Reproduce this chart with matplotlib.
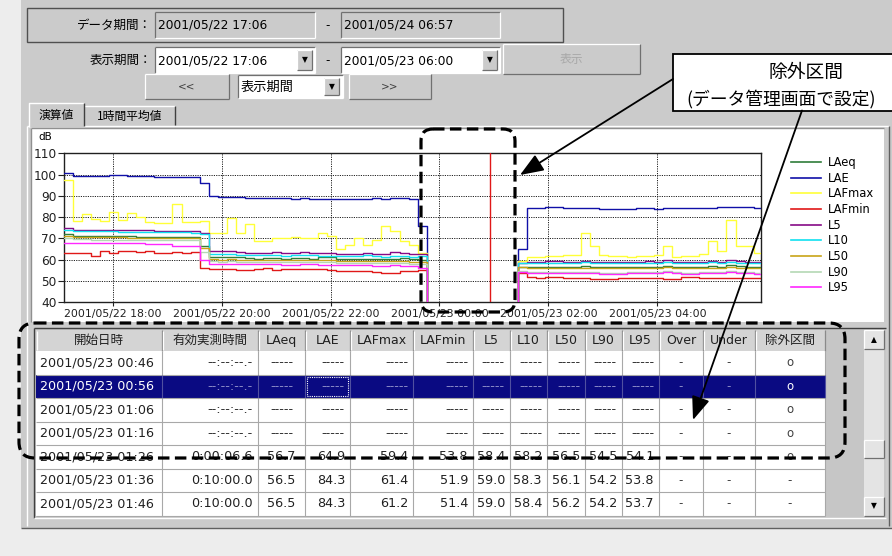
import numpy as np
import matplotlib
matplotlib.use('Agg')
import matplotlib.pyplot as plt
import matplotlib.dates as mdates
from matplotlib.patches import Rectangle, FancyBboxPatch
from matplotlib.lines import Line2D
from datetime import datetime, timedelta

plt.rcParams['font.family'] = ['DejaVu Sans', 'Noto Sans CJK JP']

# ------------------------------------------------------------------ data
data_period = ['2001/05/22 17:06', '2001/05/24 06:57']
view_period = ['2001/05/22 17:06', '2001/05/23 06:00']
series_names = ['LAeq', 'LAE', 'LAFmax', 'LAFmin', 'L5', 'L10', 'L50', 'L90', 'L95']
series_colors = ['#2f7d3a', '#1010a8', '#ffff38', '#e01818', '#860a86',
                 '#10e0f0', '#c8a418', '#b4d8b4', '#ff28ff']

first_start = '2001/05/22 17:06'   # 10-minute records
n_excluded = 10                      # 23:46 .. 01:16 (除外区間, no data)
axis_end = '2001/05/23 05:54'
selected_time = '2001/05/23 00:56'

laeq_before = [72.2, 71.2, 71.2, 71.2, 71.0, 71.0, 71.0, 71.0, 70.8, 70.8, 70.8, 70.8, 70.8, 70.6, 70.6, 66.4,
               61.2, 61.0, 61.4, 61.0, 60.6, 60.4, 60.6, 60.6, 60.4, 60.8, 60.6, 60.4, 61.2, 61.2, 60.4, 60.2,
               60.2, 60.2, 60.2, 60.2, 60.2, 60.6, 60.2, 59.8]
lae_before = [100.6, 99.3, 99.3, 99.3, 99.3, 99.6, 99.6, 99.2, 99.2, 99.2, 98.8, 98.8, 98.8, 98.8, 98.8, 96.2,
              90.0, 89.6, 89.6, 89.6, 88.8, 88.8, 88.8, 88.8, 89.0, 88.6, 88.9, 88.7, 88.7, 88.7, 88.3, 88.3,
              88.3, 88.3, 88.8, 88.5, 88.8, 88.8, 88.5, 75.6]
lafmax_before = [97.3, 78.3, 81.2, 79.3, 78.3, 82.4, 78.6, 82.0, 79.8, 77.8, 77.3, 77.3, 86.3, 77.6, 77.6, 78.0,
                 72.3, 72.3, 79.6, 72.3, 76.7, 68.5, 68.5, 70.0, 70.0, 70.7, 70.2, 70.0, 72.3, 70.9, 64.8, 66.9,
                 70.0, 66.9, 69.3, 75.6, 73.4, 68.5, 66.9, 63.0]
lafmin_before = [63.2, 63.2, 63.2, 61.6, 64.0, 63.2, 64.2, 64.2, 63.6, 64.0, 63.2, 63.2, 63.6, 63.2, 63.6, 55.8,
                 55.4, 55.4, 55.6, 55.0, 55.0, 55.4, 55.8, 55.2, 55.6, 55.6, 55.6, 55.6, 55.6, 55.0, 54.8, 54.8,
                 54.8, 54.6, 54.0, 53.8, 53.8, 54.4, 54.6, 55.2]
l5_before = [74.6, 74.0, 74.0, 74.0, 74.0, 73.8, 73.8, 73.8, 73.8, 73.8, 73.4, 73.4, 73.4, 73.4, 73.4, 72.6,
             64.2, 63.8, 64.2, 63.6, 63.2, 63.2, 63.0, 63.4, 63.0, 63.2, 63.4, 63.2, 63.0, 63.0, 62.6, 62.8,
             62.6, 63.2, 62.6, 62.6, 63.4, 63.0, 62.6, 62.4]
l10_before = [73.8, 73.2, 73.2, 73.2, 73.2, 73.2, 73.0, 73.0, 73.0, 73.0, 72.8, 72.8, 72.8, 72.8, 72.6, 72.2,
              62.8, 62.4, 62.6, 62.2, 62.0, 62.0, 62.0, 62.2, 61.8, 62.0, 62.2, 62.0, 61.8, 61.8, 61.6, 61.6,
              61.6, 62.0, 61.6, 61.4, 61.8, 61.6, 61.4, 61.6]
l50_before = [71.0, 70.6, 70.6, 70.4, 70.4, 70.4, 70.4, 70.2, 70.2, 70.2, 70.2, 70.0, 70.0, 70.0, 70.0, 65.2,
              60.2, 60.0, 60.2, 60.0, 59.8, 59.8, 59.8, 60.0, 59.6, 59.8, 59.8, 59.6, 59.8, 59.6, 59.4, 59.4,
              59.4, 59.4, 59.2, 59.2, 59.4, 59.2, 59.0, 58.8]
l90_before = [70.0, 69.6, 69.6, 69.4, 69.4, 69.4, 69.4, 69.2, 69.2, 69.2, 69.0, 69.0, 69.0, 69.0, 69.0, 63.6,
              59.2, 59.0, 59.2, 59.0, 58.8, 58.8, 58.8, 59.0, 58.6, 58.8, 58.8, 58.6, 58.8, 58.6, 58.4, 58.4,
              58.4, 58.4, 58.2, 58.2, 58.4, 58.2, 58.0, 57.8]
l95_before = [67.6, 67.6, 67.6, 67.6, 67.6, 67.6, 67.6, 67.6, 67.6, 67.2, 67.2, 67.2, 66.4, 66.4, 66.4, 59.6,
              58.0, 58.0, 57.8, 57.8, 57.8, 57.8, 57.8, 57.8, 57.6, 57.6, 57.8, 57.8, 57.6, 57.6, 57.2, 57.2,
              57.2, 57.2, 57.0, 57.0, 57.2, 57.0, 56.8, 56.0]

laeq_after = [56.7, 56.5, 56.5, 56.6, 56.6, 56.4, 56.4, 56.8, 56.6, 56.4, 56.4, 56.4, 56.5, 56.5, 56.6, 56.6,
              57.0, 56.6, 56.4, 56.4, 56.6, 56.8, 56.6, 57.2, 56.8, 56.6, 56.4]
lae_after = [64.9, 84.3, 84.3, 84.5, 84.5, 84.4, 84.4, 84.2, 84.2, 83.6, 83.6, 83.6, 84.0, 84.2, 84.2, 84.0,
             84.3, 84.2, 84.2, 84.4, 84.4, 84.4, 84.6, 84.7, 84.9, 84.5, 84.3]
lafmax_after = [59.4, 61.4, 61.2, 61.6, 61.8, 62.0, 62.2, 72.4, 66.2, 62.0, 61.5, 61.6, 61.4, 61.6, 61.8, 62.0,
                66.2, 61.4, 61.6, 61.8, 62.6, 68.5, 64.1, 78.7, 66.2, 66.2, 63.2]
lafmin_after = [53.8, 51.9, 51.4, 51.6, 51.6, 51.2, 51.2, 51.2, 51.0, 51.0, 51.0, 51.4, 51.4, 51.2, 51.2, 51.2,
                51.0, 51.0, 51.6, 51.8, 51.2, 51.2, 51.2, 51.4, 51.4, 51.2, 51.2]
l5_after = [58.4, 59.0, 59.0, 59.2, 59.2, 59.0, 59.0, 59.4, 59.0, 58.8, 58.8, 58.8, 59.0, 59.0, 59.2, 59.0,
            59.6, 59.0, 58.8, 58.8, 59.0, 59.4, 59.0, 59.6, 59.2, 59.0, 58.8]
l10_after = [58.2, 58.3, 58.4, 58.4, 58.4, 58.2, 58.2, 58.6, 58.4, 58.2, 58.2, 58.2, 58.4, 58.4, 58.4, 58.4,
             58.8, 58.4, 58.2, 58.2, 58.4, 58.6, 58.4, 58.8, 58.4, 58.4, 58.2]
l50_after = [56.5, 56.1, 56.2, 56.2, 56.2, 56.0, 56.0, 56.2, 56.0, 55.8, 55.8, 55.8, 56.0, 56.0, 56.2, 56.0,
             56.4, 56.0, 55.8, 55.8, 56.0, 56.2, 56.0, 56.4, 56.2, 56.0, 55.8]
l90_after = [54.5, 54.2, 54.2, 54.2, 54.2, 54.0, 54.0, 54.2, 54.0, 53.8, 53.8, 53.8, 54.0, 54.0, 54.2, 54.0,
             54.4, 54.0, 53.8, 53.8, 54.0, 54.2, 54.0, 54.4, 54.2, 54.0, 53.8]
l95_after = [54.1, 53.8, 53.7, 53.8, 53.8, 53.6, 53.6, 53.8, 53.6, 53.4, 53.4, 53.4, 53.6, 53.6, 53.8, 53.6,
             54.0, 53.6, 53.4, 53.4, 53.6, 53.8, 53.6, 54.0, 53.8, 53.6, 53.4]

# table
table_headers = ['開始日時', '有効実測時間', 'LAeq', 'LAE', 'LAFmax', 'LAFmin', 'L5', 'L10', 'L50', 'L90',
                 'L95', 'Over', 'Under', '除外区間']
row_start = ['2001/05/23 00:46', '2001/05/23 00:56', '2001/05/23 01:06', '2001/05/23 01:16',
             '2001/05/23 01:26', '2001/05/23 01:36', '2001/05/23 01:46']
row_eff = ['--:--:--.-', '--:--:--.-', '--:--:--.-', '--:--:--.-', '0:00:06.6', '0:10:00.0', '0:10:00.0']
tbl_laeq = [None, None, None, None, 56.7, 56.5, 56.5]
tbl_lae = [None, None, None, None, 64.9, 84.3, 84.3]
tbl_lafmax = [None, None, None, None, 59.4, 61.4, 61.2]
tbl_lafmin = [None, None, None, None, 53.8, 51.9, 51.4]
tbl_l5 = [None, None, None, None, 58.4, 59.0, 59.0]
tbl_l10 = [None, None, None, None, 58.2, 58.3, 58.4]
tbl_l50 = [None, None, None, None, 56.5, 56.1, 56.2]
tbl_l90 = [None, None, None, None, 54.5, 54.2, 54.2]
tbl_l95 = [None, None, None, None, 54.1, 53.8, 53.7]
row_over = ['-', '-', '-', '-', '-', '-', '-']
row_under = ['-', '-', '-', '-', '-', '-', '-']
row_excl = ['o', 'o', 'o', 'o', 'o', '-', '-']
selected_row = 1

callout_lines = ['除外区間', '(データ管理画面で設定)']

# ------------------------------------------------------------------ figure
W, H = 892, 556
fig = plt.figure(figsize=(W / 100, H / 100), dpi=100, facecolor='#ededed')
bg = fig.add_axes([0, 0, 1, 1])
bg.set_xlim(0, W); bg.set_ylim(H, 0); bg.axis('off'); bg.set_zorder(0)

GRAY = '#cbcbcb'
LAT = 'DejaVu Sans'
CJK = ['Noto Sans CJK JP', 'DejaVu Sans']


def box(x0, y0, x1, y1, fc, ec='none', lw=1.0, z=1, ax=None):
    (ax or bg).add_patch(Rectangle((x0, y0), x1 - x0, y1 - y0, fc=fc, ec=ec, lw=lw, zorder=z))


def seg(xs, ys, color, lw=1.0, z=2, ax=None, ls='-'):
    (ax or bg).plot(xs, ys, color=color, lw=lw, zorder=z, ls=ls, solid_capstyle='butt')


def bevel(x0, y0, x1, y1, raised=True, z=3):
    lt, dk = ('#ffffff', '#707070') if raised else ('#707070', '#ffffff')
    seg([x0, x1], [y0, y0], lt, 0.9, z); seg([x0, x0], [y0, y1], lt, 0.9, z)
    seg([x0, x1], [y1, y1], dk, 0.9, z); seg([x1, x1], [y0, y1], dk, 0.9, z)


def txt(x, y, s, size=9, ha='left', color='black', family=None, z=5, ax=None, **kw):
    (ax or bg).text(x, y, s, fontsize=size, ha=ha, va='center', color=color,
                    family=family or [LAT, 'Noto Sans CJK JP'], zorder=z, **kw)


def button(x0, y0, x1, y1, label=None, size=8, color='black', family=None):
    box(x0, y0, x1, y1, GRAY, z=2)
    bevel(x0, y0, x1, y1, True)
    if label:
        txt((x0 + x1) / 2, (y0 + y1) / 2, label, size, 'center', color, family)


def combo(x0, y0, x1, y1, label, size=8.8, family=None, fc='white'):
    box(x0, y0, x1, y1, fc, z=2)
    bevel(x0, y0, x1, y1, False)
    if label:
        txt(x0 + 3, (y0 + y1) / 2 + 0.5, label, size, family=family)


def dropbtn(x0, y0, x1, y1):
    button(x0, y0, x1, y1)
    txt((x0 + x1) / 2, (y0 + y1) / 2, '▼', 5.5, 'center')


# outer panel
box(21, 0, W, 528, GRAY, z=0.5)
seg([21, W], [528, 528], '#606060', 1.0, 1)

# ---- top controls
box(27, 8, 563, 42, 'none', ec='#505050', lw=1.0, z=2)
txt(152, 25, 'データ期間：', 9.0, 'right', family=CJK)
combo(155, 12, 315, 38, data_period[0], fc=GRAY)
txt(328, 26, '-', 8.5, 'center')
combo(341, 12, 500, 38, data_period[1], fc=GRAY)

txt(152, 60, '表示期間：', 9.0, 'right', family=CJK)
combo(155, 47, 315, 73, view_period[0])
dropbtn(297, 50, 312, 70)
txt(328, 61, '-', 8.5, 'center')
combo(341, 47, 500, 73, view_period[1])
dropbtn(482, 50, 497, 70)
button(503, 44, 640, 74, '表示', 8.5, '#a8a8a8', CJK)

button(145, 74, 229, 99, '<<', 7.5, '#404040')
combo(238, 75, 343, 98, '表示期間', 9.5, CJK)
dropbtn(324, 78, 339, 95)
button(349, 74, 431, 99, '>>', 7.5, '#404040')

# tabs
box(27, 126, 889, 526, GRAY, z=1)
seg([27, 889], [126, 126], '#ffffff', 1.0, 2)
seg([27, 27], [126, 526], '#ffffff', 1.0, 2)
seg([889, 889], [126, 526], '#606060', 1.0, 2)
box(29, 103, 84, 127, GRAY, z=2.5)
seg([29, 29, 84], [127, 103, 103], '#ffffff', 1.0, 3)
seg([84, 84], [103, 126], '#404040', 1.0, 3)
txt(56, 115, '演算値', 8.5, 'center', family=CJK)
box(85, 106, 175, 125, GRAY, z=2)
seg([85, 175], [106, 106], '#ffffff', 1.0, 3)
seg([175, 175], [106, 125], '#404040', 1.0, 3)
txt(130, 116, '1時間平均値', 8.5, 'center', family=CJK)

# chart panel
box(31, 128, 884, 322, 'white', z=2)
seg([31, 884], [128, 128], '#909090', 1.0, 3)
seg([31, 31], [128, 322], '#909090', 1.0, 3)
txt(45, 137, 'dB', 7.5, 'center')

# ------------------------------------------------------------------ chart
t0 = datetime.strptime(first_start, '%Y/%m/%d %H:%M')
n_total = len(lae_before) + n_excluded + len(lae_after)
edges = [t0 + timedelta(minutes=10 * k) for k in range(n_total + 1)]
edges_num = mdates.date2num(edges)

ax_l, ax_r, ax_t, ax_b = 63.5, 761, 153.3, 302
cax = fig.add_axes([ax_l / W, 1 - ax_b / H, (ax_r - ax_l) / W, (ax_b - ax_t) / H])
cax.set_zorder(5)
cax.set_facecolor('white')

series_before = [laeq_before, lae_before, lafmax_before, lafmin_before, l5_before,
                 l10_before, l50_before, l90_before, l95_before]
series_after = [laeq_after, lae_after, lafmax_after, lafmin_after, l5_after,
                l10_after, l50_after, l90_after, l95_after]
for name, color, b, a in zip(series_names, series_colors, series_before, series_after):
    vals = np.array(b + [np.nan] * n_excluded + a, dtype=float)
    # the instrument software draws missing records at 0 dB
    drawn = np.nan_to_num(vals, nan=0.0)
    cax.plot(edges_num, np.append(drawn, drawn[-1]), drawstyle='steps-post',
             color=color, lw=1.0, label=name, zorder=3)

cax.axvline(mdates.date2num(datetime.strptime(selected_time, '%Y/%m/%d %H:%M')),
            color='#e01818', lw=1.0, zorder=4)
cax.set_xlim(edges_num[0], mdates.date2num(datetime.strptime(axis_end, '%Y/%m/%d %H:%M')))
cax.set_ylim(40, 110)
cax.set_yticks(np.arange(40, 111, 10))
cax.xaxis.set_major_locator(mdates.HourLocator(byhour=range(0, 24, 2)))
cax.xaxis.set_major_formatter(mdates.DateFormatter('%Y/%m/%d %H:%M'))
cax.grid(True, color='#202020', lw=0.7, ls=(0, (1.2, 1.2)), zorder=1)
cax.tick_params(axis='x', labelsize=7.8, length=3, width=0.8, pad=2, colors='#202020')
cax.tick_params(axis='y', labelsize=8.7, length=4, width=0.8, pad=1, colors='#202020')
for sp in cax.spines.values():
    sp.set_color('#202020'); sp.set_linewidth(1.0)

handles = [Line2D([], [], color=c, lw=1.2) for c in series_colors]
cax.legend(handles, series_names, loc='upper left', bbox_to_anchor=(791 / W, 1 - 156 / H),
           bbox_transform=fig.transFigure, frameon=False, fontsize=8.3, handlelength=2.6,
           handletextpad=0.6, labelspacing=0.23, borderaxespad=0, borderpad=0)

# ------------------------------------------------------------------ table
col_edges = [36, 162, 258, 305, 350, 413, 473, 510, 547, 585, 622, 659, 703, 755, 825]
head_y0, head_y1 = 330, 351
row_h = 23.5
box(34, 328, 886, 518, '#c6c6c6', z=2)
seg([34, 886], [328, 328], '#404040', 1.0, 6)
seg([34, 34], [328, 518], '#404040', 1.0, 6)
seg([34, 886], [518, 518], '#ffffff', 1.0, 6)

# header
for i, hname in enumerate(table_headers):
    x0, x1 = col_edges[i], col_edges[i + 1]
    box(x0, head_y0, x1, head_y1, '#d4d4d4', z=3)
    seg([x0 + 1, x0 + 1], [head_y0 + 1, head_y1 - 1], '#ffffff', 0.9, 4)
    seg([x1, x1], [head_y0, head_y1], '#8a8a8a', 0.9, 4)
    txt((x0 + x1) / 2, (head_y0 + head_y1) / 2, hname, 9.0, 'center', '#202020',
        CJK if any(ord(ch) > 255 for ch in hname) else None)

num_cols = [tbl_laeq, tbl_lae, tbl_lafmax, tbl_lafmin, tbl_l5, tbl_l10, tbl_l50, tbl_l90, tbl_l95]
for r in range(len(row_start)):
    y0 = head_y1 + r * row_h
    y1 = y0 + row_h
    yc = (y0 + y1) / 2
    sel = (r == selected_row)
    box(col_edges[0], y0, col_edges[-1], y1, '#0a0a82' if sel else 'white', z=3)
    seg([col_edges[0], col_edges[-1]], [y1, y1], '#a8a8a8', 0.8, 4)
    for x in col_edges[1:]:
        seg([x, x], [y0, y1], '#a8a8a8' if not sel else '#5050a0', 0.8, 4)
    main_c = 'white' if sel else '#202020'
    faint_c = '#8c8cc8' if sel else '#303030'
    txt(col_edges[0] + 4, yc, row_start[r], 9.2, 'left', main_c)
    txt(col_edges[2] - 5, yc, row_eff[r], 9.2, 'right', faint_c if row_eff[r].startswith('--') else main_c)
    for k, col in enumerate(num_cols):
        x0, x1 = col_edges[2 + k], col_edges[3 + k]
        v = col[r]
        s = '-----' if v is None else f'{v:.1f}'
        c = faint_c if v is None else main_c
        if k == 0:
            txt((x0 + x1) / 2, yc, s, 9.2, 'center', c)
        else:
            txt(x1 - 5, yc, s, 9.2, 'right', c)
    for k, lst in enumerate([row_over, row_under, row_excl]):
        x0, x1 = col_edges[11 + k], col_edges[12 + k]
        c = ('white' if k == 2 else faint_c) if sel else '#404040'
        txt((x0 + x1) / 2, yc, lst[r], 8.5, 'center', c)
    if sel:
        bg.add_patch(Rectangle((col_edges[3] + 2, y0 + 2), col_edges[4] - col_edges[3] - 4, row_h - 4,
                               fill=False, ec='white', lw=0.8, ls=(0, (1, 1)), zorder=6))

# scrollbar
sx0, sx1 = 864, 884
box(sx0, 330, sx1, 516, '#e4e4e4', z=3)
button(sx0, 330, sx1, 349)
txt((sx0 + sx1) / 2, 340, '▲', 5.5, 'center')
button(sx0, 497, sx1, 516)
txt((sx0 + sx1) / 2, 506, '▼', 5.5, 'center')
button(sx0, 440, sx1, 458)

# ------------------------------------------------------------------ annotations
ann = fig.add_axes([0, 0, 1, 1], facecolor='none')
ann.set_xlim(0, W); ann.set_ylim(H, 0); ann.axis('off'); ann.set_zorder(10)
dash = (0, (3.6, 1.7))
ann.add_patch(FancyBboxPatch((421, 129), 94, 183, boxstyle='round,pad=0,rounding_size=12',
                             fill=False, ec='black', lw=2.3, ls=dash, zorder=5))
ann.add_patch(FancyBboxPatch((19, 323), 826, 135, boxstyle='round,pad=0,rounding_size=16',
                             fill=False, ec='black', lw=2.3, ls=dash, zorder=5))

ann.add_patch(Rectangle((673, 54), 260, 56.5, fc='white', ec='black', lw=1.3, zorder=6))
ann.text(806, 72, callout_lines[0], fontsize=13.5, ha='center', va='center',
         family=CJK, zorder=7)
ann.text(686, 99, callout_lines[1], fontsize=12.8, ha='left', va='center',
         family=CJK, zorder=7)

ap = dict(arrowstyle='-|>,head_length=0.9,head_width=0.35', color='black', lw=1.3,
          shrinkA=0, shrinkB=0, mutation_scale=16)
ann.annotate('', xy=(520, 175), xytext=(673, 79), arrowprops=ap, zorder=8)
ann.annotate('', xy=(693, 420), xytext=(802, 110.5), arrowprops=ap, zorder=8)

fig.savefig('out.png', dpi=100, facecolor=fig.get_facecolor())
